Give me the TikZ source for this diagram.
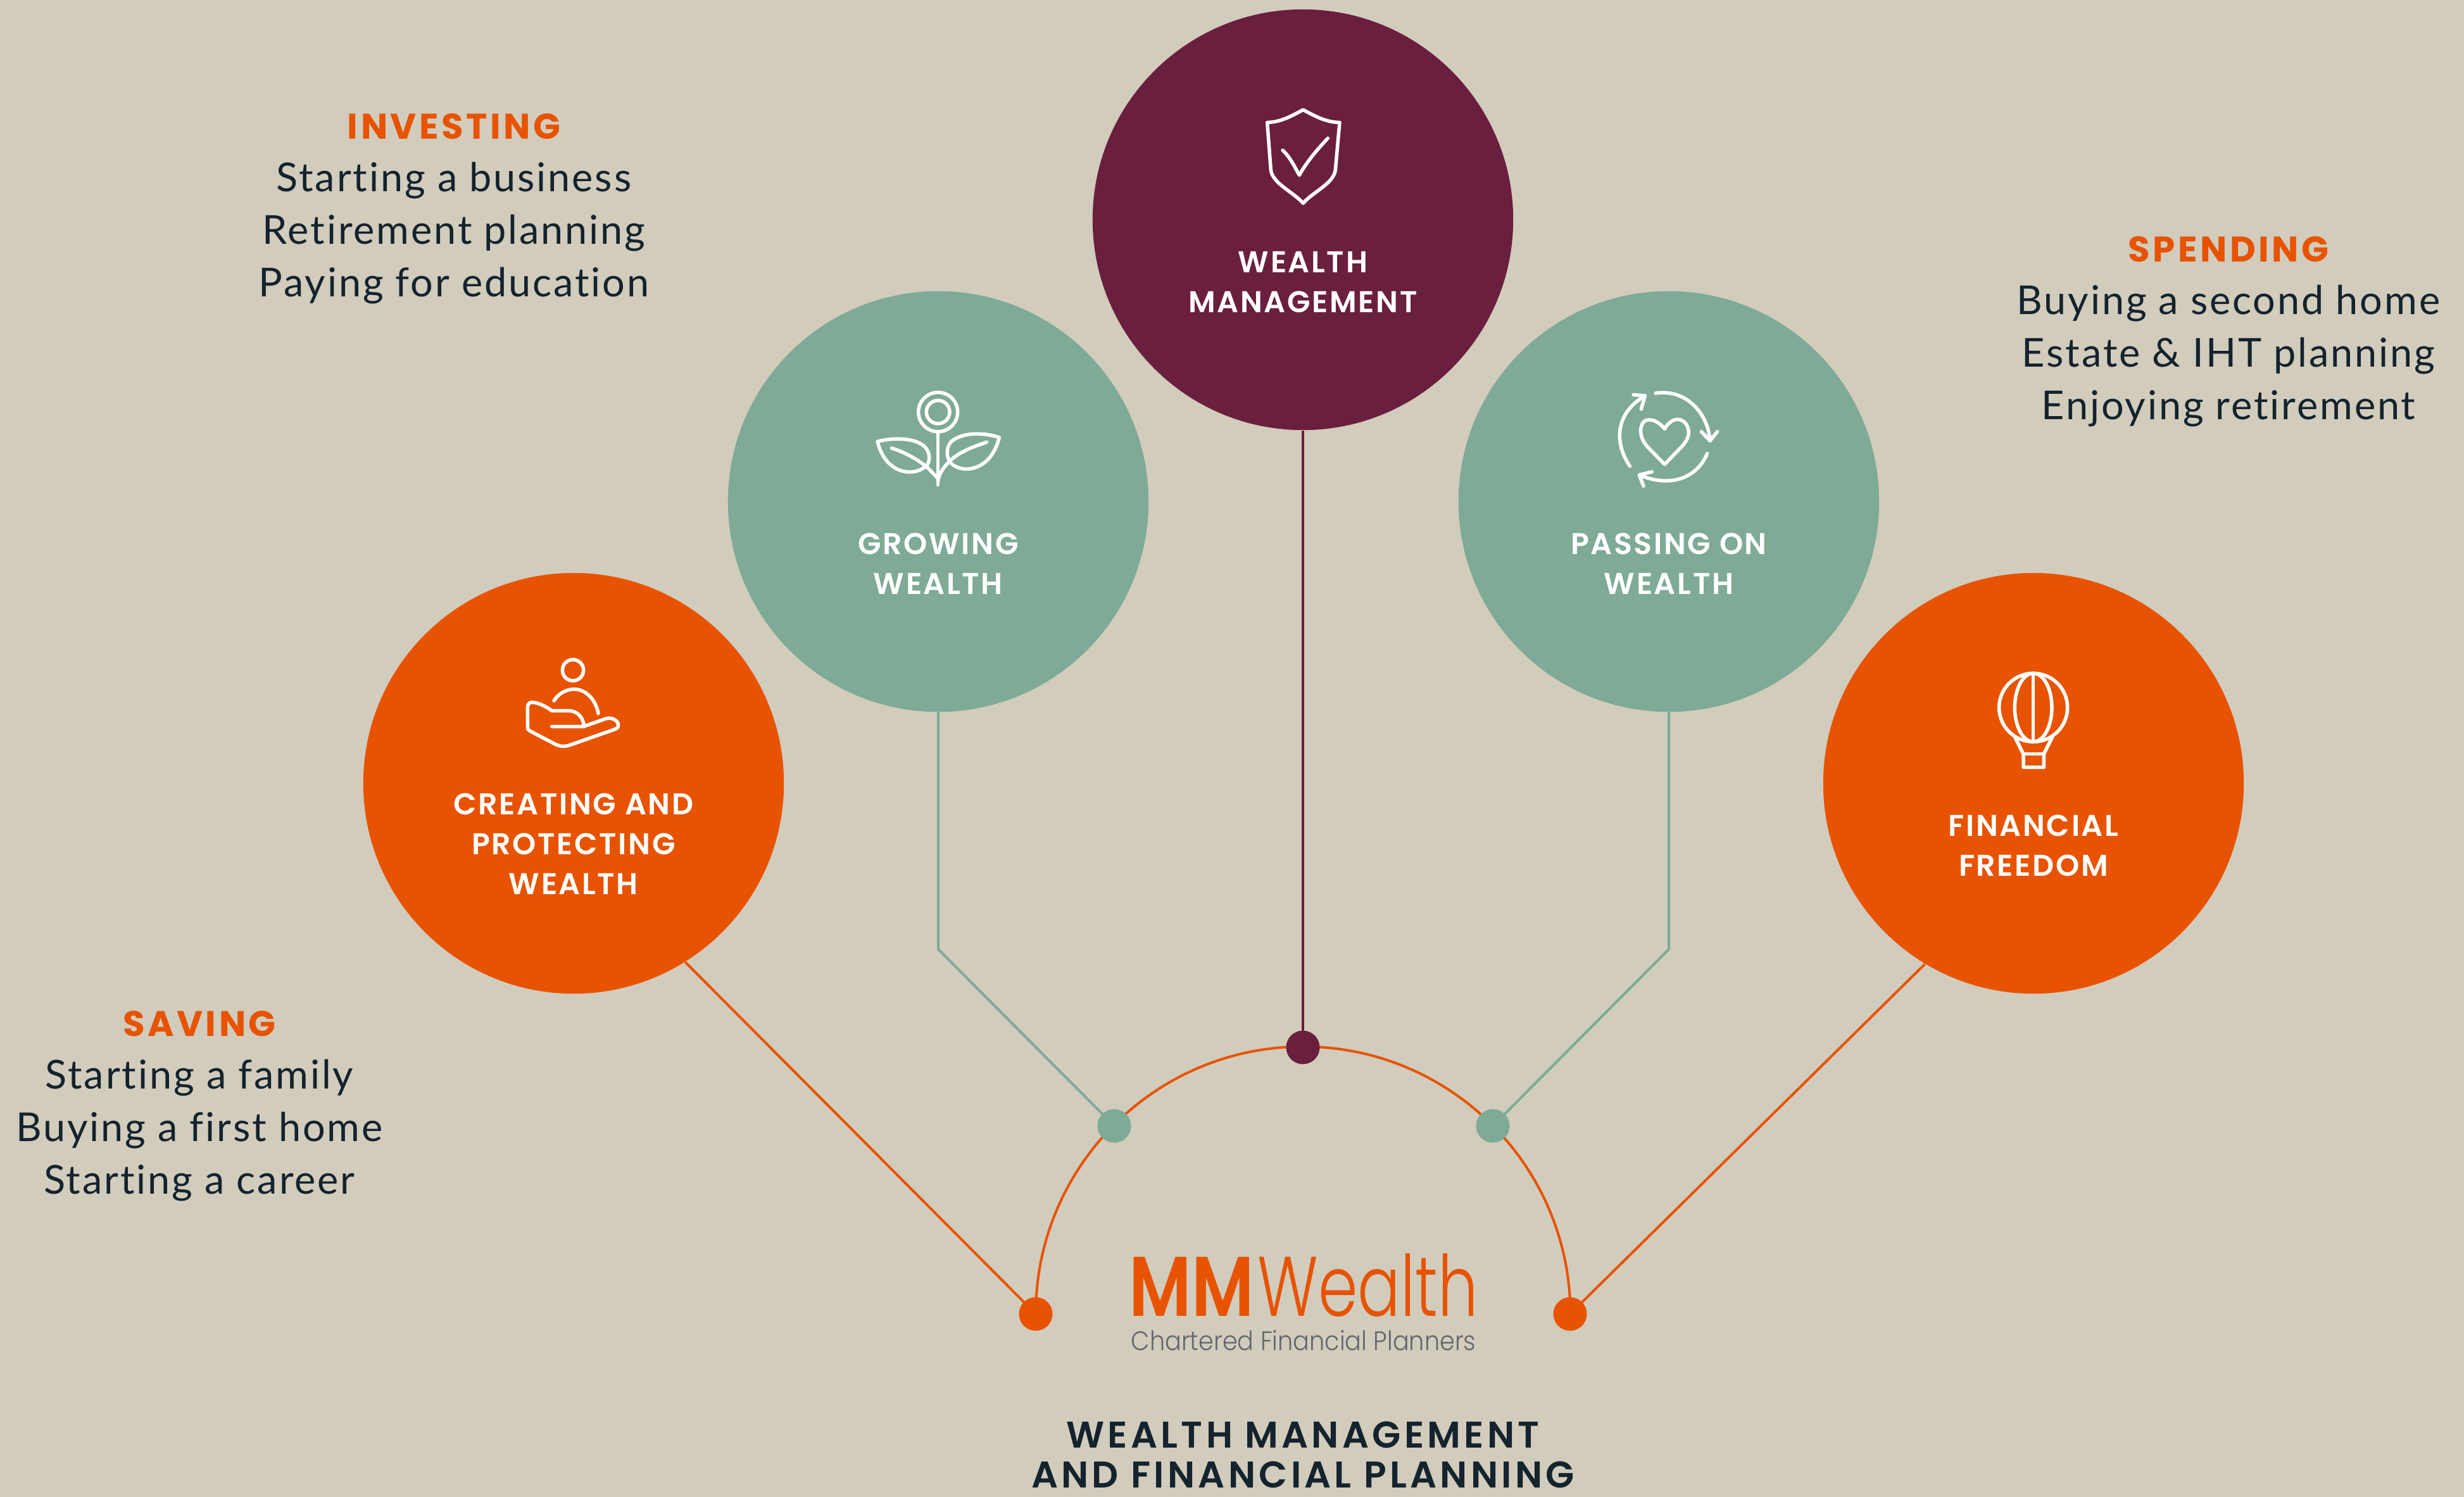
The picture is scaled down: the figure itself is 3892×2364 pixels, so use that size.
\documentclass[tikz,border=0pt]{standalone}
\usepackage{fontspec}
\setmainfont{Poppins}
\newfontfamily\bodyf{Lato}[LetterSpace=4.6,Ligatures=NoCommon]
\newfontfamily\medf{Poppins SemiBold}[LetterSpace=5.5]
\newfontfamily\headf{Poppins}[LetterSpace=8]
\newfontfamily\botf{Poppins SemiBold}[LetterSpace=9]
\newfontfamily\logoa{Poppins SemiBold}[FakeStretch=0.82]
\newfontfamily\logob{Poppins Light}[FakeStretch=0.75]
\newfontfamily\logoc{Poppins Light}[FakeStretch=0.905]
\usetikzlibrary{backgrounds}
\definecolor{bgc}{HTML}{D2CCBD}
\definecolor{orangec}{HTML}{E75300}
\definecolor{maroonc}{HTML}{6A1F3E}
\definecolor{greenc}{HTML}{7EAA96}
\definecolor{darkc}{HTML}{14232D}
\definecolor{greyc}{HTML}{63666D}
\tikzset{
  x=0.01cm,y=-0.01cm,
  bigcircle/.style={circle,minimum size=6.64cm,inner sep=0pt,fill=#1},
  dotnode/.style={circle,minimum size=0.53cm,inner sep=0pt,fill=#1},
  linkline/.style={line width=0.04cm,draw=#1},
  iconline/.style={line width=0.055cm,draw=white,line cap=round,line join=round},
  caplabel/.style={text=white,align=center,font=\fontsize{13.5}{17.9}\selectfont\medf,inner sep=0pt},
  bodytext/.style={text=darkc,align=center,font=\fontsize{17.9}{23.6}\selectfont\bodyf,inner sep=0pt},
}
\newcommand{\headtext}[1]{{\fontsize{16}{23.6}\selectfont\headf\bfseries\color{orangec}#1}}
\begin{document}
\begin{tikzpicture}
\useasboundingbox (0,0) rectangle (3892,2364);
\begin{scope}[on background layer]
\fill[bgc] (0,0) rectangle (3892,2364);
\end{scope}

\node[bigcircle=orangec] (c1) at (906,1237) {};
\node[bigcircle=greenc] (c2) at (1482,792) {};
\node[bigcircle=maroonc] (c3) at (2058,347) {};
\node[bigcircle=greenc] (c4) at (2636,792) {};
\node[bigcircle=orangec] (c5) at (3212,1237) {};

\node[dotnode=orangec] (d1) at (1636,2075) {};
\node[dotnode=greenc] (d2) at (1760,1778) {};
\node[dotnode=maroonc] (d3) at (2058,1654) {};
\node[dotnode=greenc] (d4) at (2358,1778) {};
\node[dotnode=orangec] (d5) at (2480,2075) {};
\coordinate (b2) at (1482,1499);
\coordinate (b4) at (2636,1499);

\begin{scope}[on background layer]
\draw[linkline=orangec] (d1.center) arc[start angle=180,end angle=0,radius=4.22cm];
\draw[linkline=orangec] (c1.-58.4) -- (d1.center);
\draw[linkline=greenc] (c2.south) -- (b2) -- (d2.center);
\draw[linkline=maroonc] (c3.south) -- (d3.center);
\draw[linkline=greenc] (c4.south) -- (b4) -- (d4.center);
\draw[linkline=orangec] (c5.-121.6) -- (d5.center);
\end{scope}

% labels in circles
\node[caplabel] (l1) at (906,1333) {CREATING AND\\PROTECTING\\WEALTH};
\node[caplabel] (l2) at (1482,890) {GROWING\\WEALTH};
\node[caplabel] (l3) at (2058,446) {WEALTH\\MANAGEMENT};
\node[caplabel] (l4) at (2636,890) {PASSING ON\\WEALTH};
\node[caplabel] (l5) at (3212,1335) {FINANCIAL\\FREEDOM};

% outside text
\node[bodytext] (t1) at (717,330) {\headtext{INVESTING}\\Starting a business\\Retirement planning\\Paying for education};
\node[bodytext] (t2) at (3520,524) {\headtext{SPENDING}\\Buying a second home\\Estate \& IHT planning\\Enjoying retirement};
\node[bodytext] (t3) at (315,1747) {\headtext{SAVING}\\Starting a family\\Buying a first home\\Starting a career};
\node[text=darkc,align=center,inner sep=0pt,font=\fontsize{16.7}{17.9}\selectfont\botf] (t4) at (2058,2297) {WEALTH MANAGEMENT\\AND FINANCIAL PLANNING};

% logo
\node[anchor=base west,inner sep=0pt,text=orangec,font=\fontsize{38}{38}\selectfont\logoa] (mm) at (1783,2078) {MM};
\node[anchor=base west,inner sep=0pt,text=orangec,font=\fontsize{38}{38}\selectfont\logob] (we) at (1986,2078) {Wealth};
\node[anchor=base,inner sep=0pt,text=greyc,font=\fontsize{12}{12}\selectfont\logoc] (cf) at (2059,2132) {Chartered Financial Planners};

% shield
\begin{scope}[shift={(1950,140)},scale=1/3,iconline]
\draw (325,100) .. controls (270,130) and (215,160) .. (155,160) -- (172,385) .. controls (180,450) and (280,490) .. (325,543) .. controls (370,490) and (470,450) .. (478,385) -- (498,160) .. controls (435,160) and (380,130) .. (325,100) -- cycle;
\draw (228,292) .. controls (260,320) and (285,370) .. (307,410) .. controls (340,350) and (390,290) .. (442,235);
\end{scope}

% flower
\begin{scope}[shift={(1360,590)},scale=1/3,iconline]
\draw (365,182) circle[radius=0.93cm];
\draw (365,182) circle[radius=0.55cm];
\draw (365,275) -- (365,527);
\draw (655,302) .. controls (570,275) and (470,280) .. (425,325) .. controls (395,365) and (410,420) .. (440,435) .. controls (500,475) and (620,450) .. (655,302) -- cycle;
\draw (595,325) .. controls (520,350) and (460,375) .. (420,415) .. controls (395,440) and (370,470) .. (365,510);
\draw (78,322) .. controls (160,300) and (265,305) .. (305,350) .. controls (335,385) and (325,430) .. (300,445) .. controls (235,490) and (115,470) .. (78,322) -- cycle;
\draw (145,353) .. controls (200,370) and (260,400) .. (315,445) -- (365,497);
\end{scope}

% heart
\begin{scope}[shift={(2530,590)},scale=1/3,iconline]
\draw (298,262) .. controls (270,225) and (235,215) .. (215,220) .. controls (190,225) and (180,260) .. (187,290) .. controls (190,315) and (210,340) .. (225,355) -- (298,430) -- (375,350) .. controls (400,325) and (412,300) .. (412,280) .. controls (412,240) and (385,215) .. (355,217) .. controls (330,220) and (310,240) .. (298,262) -- cycle;
\draw (255,93) .. controls (400,70) and (505,190) .. (513,318);
\draw (472,275) -- (513,318) -- (548,275);
\draw (500,378) .. controls (455,490) and (330,545) .. (178,480);
\draw (238,465) -- (178,480) -- (198,533);
\draw (133,438) .. controls (60,330) and (60,190) .. (205,105);
\draw (150,100) -- (205,105) -- (187,168);
\end{scope}

% hand
\begin{scope}[shift={(800,1010)},scale=1/3,iconline]
\draw (315,145) circle[radius=0.5cm];
\draw (225,290) .. controls (250,250) and (290,235) .. (320,235) .. controls (380,235) and (425,290) .. (435,350);
\draw (215,412) -- (365,412) -- (470,375) .. controls (500,365) and (530,385) .. (530,405) .. controls (530,420) and (520,422) .. (505,428) -- (300,500) .. controls (270,510) and (250,505) .. (230,495) -- (115,435) .. controls (100,428) and (100,420) .. (100,410) -- (100,320) .. controls (100,300) and (115,295) .. (130,298) .. controls (160,302) and (190,320) .. (215,337) -- (295,337) .. controls (335,337) and (365,370) .. (368,412);
\end{scope}

% balloon
\begin{scope}[shift={(3110,1040)},scale=1/3,iconline]
\draw (305,232) circle[radius=1.62cm];
\draw (305,232) ellipse[x radius=0.88cm,y radius=1.62cm];
\draw (305,70) -- (305,394);
\draw (218,372) -- (258,452) -- (258,515) -- (355,515) -- (355,452) -- (395,372);
\draw (258,452) -- (355,452);
\end{scope}
\end{tikzpicture}
\end{document}
